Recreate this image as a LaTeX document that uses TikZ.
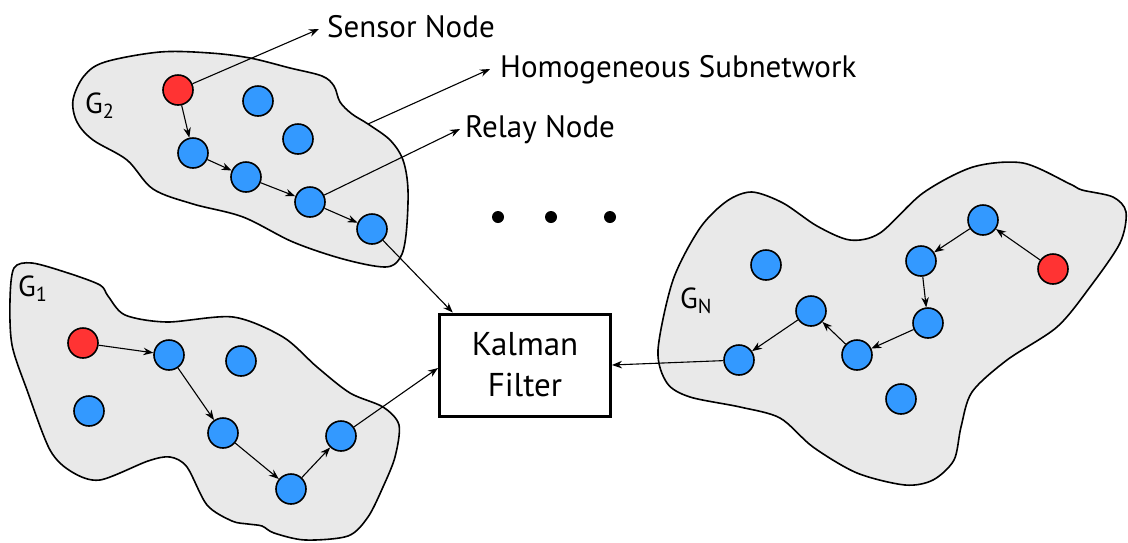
\documentclass[tikz,border=0pt]{standalone}
\usepackage{fontspec}
\setmainfont{PT Sans}
\usetikzlibrary{arrows.meta,calc}

\definecolor{netblue}{RGB}{51,153,255}
\definecolor{netred}{RGB}{255,51,51}
\definecolor{cloudgray}{RGB}{233,233,233}

\tikzset{
  relay/.style={circle, draw=black, line width=1.6pt, fill=netblue, minimum size=30pt, inner sep=0pt},
  sensor/.style={relay, fill=netred},
  cloud/.style={draw=black, line width=1.6pt, fill=cloudgray},
  link/.style={-{Stealth[length=10pt,width=7.5pt]}, line width=1.1pt},
  lbl/.style={anchor=base west, inner sep=0pt, font=\fontsize{31}{34}\selectfont},
  glbl/.style={inner sep=0pt, font=\fontsize{29}{32}\selectfont},
  dot/.style={circle, fill=black, minimum size=12pt, inner sep=0pt},
}

\begin{document}
\begin{tikzpicture}[x=1pt, y=-1pt]
\useasboundingbox (0,0) rectangle (1128,542);

% subnetwork outlines
\draw[cloud] plot[smooth cycle, tension=0.55] coordinates {
  (73,100) (84,76) (105,62) (160,52) (210,53) (250,58) (290,68) (322,76)
  (334,86) (340,102) (352,114) (368,124) (390,140) (403,160) (408,190)
  (406,235) (400,258) (385,267) (343,259) (293,242) (243,217) (193,204)
  (153,189) (127,160) (93,140) (77,122)};

\draw[cloud] plot[smooth cycle, tension=0.5] coordinates {
  (14,268) (32,263) (68,273) (100,285) (108,296) (125,315) (167,322)
  (233,317) (283,337) (317,367) (350,393) (383,407) (399,425) (395,457)
  (383,487) (368,517) (348,536) (305,540) (274,533) (262,526) (248,524)
  (232,521) (207,505) (187,467) (170,457) (148,461) (100,480) (72,472)
  (50,450) (27,390) (12,345) (10,300)};

\draw[cloud] plot[smooth cycle, tension=0.5] coordinates {
  (658,350) (673,280) (700,228) (727,201) (752,192) (783,203) (817,226)
  (850,240) (880,233) (923,193) (973,167) (1023,163) (1070,184) (1082,190)
  (1113,197) (1126,212) (1120,243) (1090,287) (1057,327) (1007,360)
  (972,392) (961,427) (954,460) (933,480) (905,485) (857,473) (813,447)
  (780,418) (740,407) (690,397) (667,383)};

% group labels
\node[glbl, anchor=base west] (g2) at (85,113) {G\textsubscript{2}};
\node[glbl, anchor=base west] (g1) at (18,296) {G\textsubscript{1}};
\node[glbl, anchor=base west] (gn) at (680,308) {G\textsubscript{N}};

% fusion centre
\node[draw=black, line width=3pt, minimum width=171pt, minimum height=102pt,
      align=center, font=\fontsize{33}{41}\selectfont] (kf) at (525,365) {Kalman\\Filter};

% subnetwork G2
\node[sensor] (s2) at (178,90) {};
\node[relay] (e2) at (258,101) {};
\node[relay] (f2) at (298,139) {};
\node[relay] (a2) at (193,153) {};
\node[relay] (b2) at (246,177) {};
\node[relay] (c2) at (310,202) {};
\node[relay] (d2) at (372,229) {};

% subnetwork G1
\node[sensor] (s1) at (83,343) {};
\node[relay] (a1) at (169,355) {};
\node[relay] (e1) at (241,361) {};
\node[relay] (f1) at (89,411) {};
\node[relay] (b1) at (223,433) {};
\node[relay] (c1) at (291,489) {};
\node[relay] (d1) at (341,436) {};

% subnetwork GN
\node[relay] (aN) at (983,220) {};
\node[sensor] (sN) at (1053,269) {};
\node[relay] (bN) at (921,261) {};
\node[relay] (gN) at (766,265) {};
\node[relay] (eN) at (811,311) {};
\node[relay] (cN) at (928,323) {};
\node[relay] (dN) at (857,355) {};
\node[relay] (fN) at (739,360) {};
\node[relay] (hN) at (901,399) {};

% ellipsis between subnetworks
\node[dot] (dt1) at (498,217) {};
\node[dot] (dt2) at (551,217) {};
\node[dot] (dt3) at (610,217) {};

% routing paths
\draw[link] (s2) -- (a2);
\draw[link] (a2) -- (b2);
\draw[link] (b2) -- (c2);
\draw[link] (c2) -- (d2);
\draw[link] (d2) -- (kf.144);

\draw[link] (s1) -- (a1);
\draw[link] (a1) -- (b1);
\draw[link] (b1) -- (c1);
\draw[link] (c1) -- (d1);
\draw[link] (d1) -- (kf.182);

\draw[link] (sN) -- (aN);
\draw[link] (aN) -- (bN);
\draw[link] (bN) -- (cN);
\draw[link] (cN) -- (dN);
\draw[link] (dN) -- (eN);
\draw[link] (eN) -- (fN);
\draw[link] (fN) -- (kf.east);

% callouts
\node[lbl] (lsensor) at (327,37) {Sensor Node};
\node[lbl] (lsub) at (500,77) {Homogeneous Subnetwork};
\node[lbl] (lrelay) at (465,137) {Relay Node};
\coordinate (g2rim) at (368,124);

\draw[link] (s2) -- ($(lsensor.base west)+(-8,-8)$);
\draw[link] (g2rim) -- ($(lsub.base west)+(-10,-8)$);
\draw[link] (c2) -- ($(lrelay.base west)+(-5,-8)$);
\end{tikzpicture}
\end{document}
